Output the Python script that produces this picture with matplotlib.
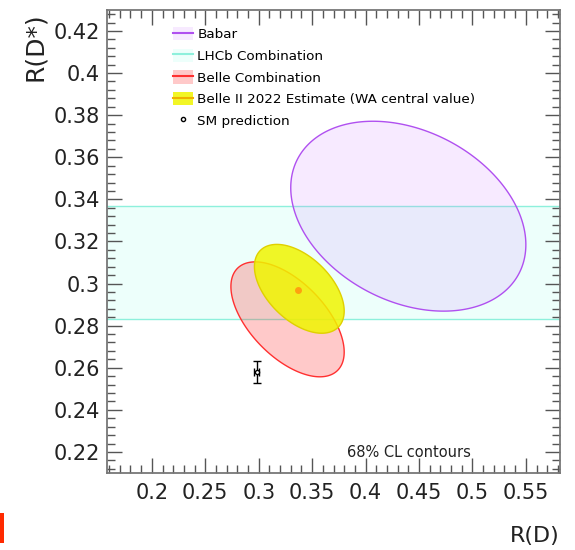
import numpy as np
import matplotlib
matplotlib.use('Agg')
import matplotlib.pyplot as plt
from matplotlib.patches import Patch, Rectangle
from matplotlib.lines import Line2D
from matplotlib.ticker import MultipleLocator
from matplotlib.colors import to_rgba

plt.rcParams['font.family'] = ['DejaVu Sans']

# 68% CL contours: centre, half extent in x and y, correlation
names = ['Babar', 'Belle Combination', 'Belle II 2022 Estimate (WA central value)']
cx = [0.440, 0.327, 0.338]
cy = [0.332, 0.283, 0.2975]
hx = [0.110, 0.053, 0.042]
hy = [0.0451, 0.0273, 0.0211]
rho = [-0.30, -0.57, -0.50]
face = ['#cc77ff', '#ff2a2a', '#f0f500']
face_alpha = [0.15, 0.25, 0.85]
edge = ['#b050f0', '#ff3030', '#e0d000']

# LHCb combination band in R(D*)
lhcb_center = 0.310
lhcb_half = 0.027

# Belle II central value and SM prediction
b2_x, b2_y = 0.337, 0.297
sm_x, sm_y = 0.298, 0.258
sm_xerr, sm_yerr = 0.002, 0.0052

fig = plt.figure(figsize=(5.75, 5.5), dpi=100)
ax = fig.add_axes([0.186, 0.14, 0.788, 0.842])

ax.axhspan(lhcb_center - lhcb_half, lhcb_center + lhcb_half, facecolor='#00ffcc', alpha=0.07, lw=0, zorder=1)
ax.axhline(lhcb_center - lhcb_half, color='#8ef0dc', lw=1, zorder=1.1)
ax.axhline(lhcb_center + lhcb_half, color='#8ef0dc', lw=1, zorder=1.1)

t = np.linspace(0, 2 * np.pi, 400, endpoint=False)
for i in range(len(names)):
    ex = cx[i] + hx[i] * np.cos(t)
    ey = cy[i] + hy[i] * (rho[i] * np.cos(t) + np.sqrt(1 - rho[i] ** 2) * np.sin(t))
    ax.fill(ex, ey, facecolor=to_rgba(face[i], face_alpha[i]), edgecolor=edge[i], lw=1,
            closed=True, zorder=2 + i)

ax.plot(b2_x, b2_y, 'o', color='#ffa010', ms=5, mec='none', zorder=6)
ax.errorbar(sm_x, sm_y, xerr=sm_xerr, yerr=sm_yerr, fmt='o', ms=3, mfc='white', mec='black',
            ecolor='black', elinewidth=1, capsize=3, zorder=7)

ax.set_xlim(0.158, 0.582)
ax.set_ylim(0.21, 0.43)
ax.xaxis.set_minor_locator(MultipleLocator(0.01))
ax.yaxis.set_minor_locator(MultipleLocator(0.004))
ax.set_xticks([0.2, 0.25, 0.3, 0.35, 0.4, 0.45, 0.5, 0.55])
ax.set_xticklabels(['0.2', '0.25', '0.3', '0.35', '0.4', '0.45', '0.5', '0.55'])
ax.set_yticks([0.22, 0.24, 0.26, 0.28, 0.3, 0.32, 0.34, 0.36, 0.38, 0.4, 0.42])
ax.set_yticklabels(['0.22', '0.24', '0.26', '0.28', '0.3', '0.32', '0.34', '0.36', '0.38', '0.4', '0.42'])
ax.tick_params(which='both', direction='in', top=True, right=True, color='#555555', width=1,
               labelsize=15, labelcolor='#222222')
ax.tick_params(axis='y', which='both', pad=5)
ax.tick_params(axis='x', which='both', pad=7)
ax.tick_params(which='major', length=11)
ax.tick_params(which='minor', length=5.5)
for s in ax.spines.values():
    s.set_color('#777777')
    s.set_linewidth(1.3)

ax.set_xlabel('R(D)', fontsize=16, color='#222222', ha='right', va='top')
ax.xaxis.set_label_coords(1.0, -0.115)
ax.set_ylabel('R(D*)', fontsize=18, color='#222222', ha='right', va='center')
ax.yaxis.set_label_coords(-0.159, 0.995)

handles = [
    (Patch(facecolor=face[0], alpha=face_alpha[0], lw=0), Line2D([], [], color=edge[0], lw=1.5)),
    (Patch(facecolor='#00ffcc', alpha=0.07, lw=0), Line2D([], [], color='#8ef0dc', lw=1.5)),
    (Patch(facecolor=face[1], alpha=face_alpha[1], lw=0), Line2D([], [], color=edge[1], lw=1.5)),
    (Patch(facecolor=face[2], alpha=face_alpha[2], lw=0), Line2D([], [], color='#f0b000', lw=1.5)),
    Line2D([], [], marker='o', ls='none', ms=3, mfc='white', mec='black'),
]
labels = ['Babar', 'LHCb Combination', 'Belle Combination',
          'Belle II 2022 Estimate (WA central value)', 'SM prediction']
ax.legend(handles, labels, loc='upper left', bbox_to_anchor=(0.146, 0.963), frameon=False,
          fontsize=9.7, handlelength=1.5, handleheight=1.15, handletextpad=0.3,
          labelspacing=0.55, borderpad=0, borderaxespad=0)

ax.text(0.667, 0.045, '68% CL contours', transform=ax.transAxes, fontsize=10.5,
        ha='center', va='center', color='#222222')

fig.patches.append(Rectangle((0, 7 / 550), 4 / 575, 30 / 550, transform=fig.transFigure,
                             facecolor='#ff2a00', edgecolor='none'))

fig.savefig('out.png', dpi=100)
